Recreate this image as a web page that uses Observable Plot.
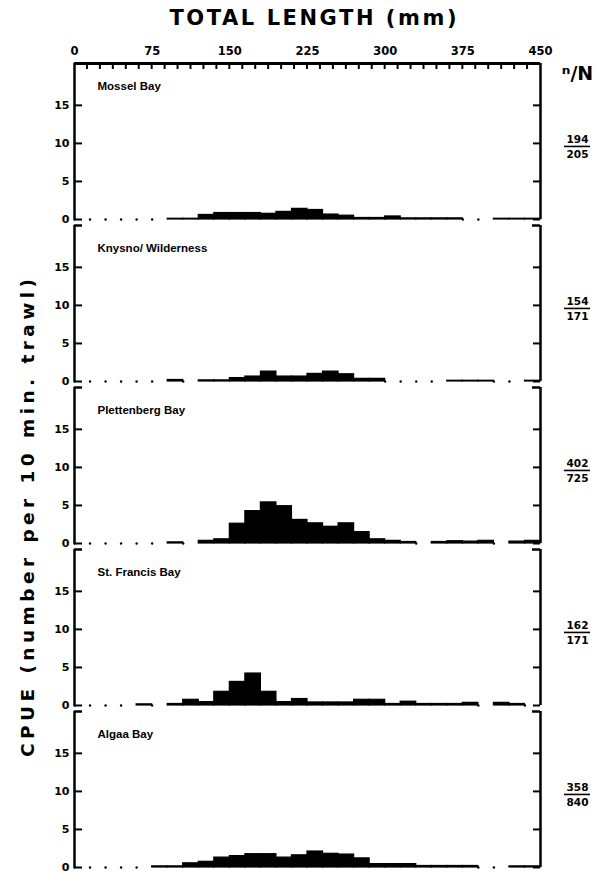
<!DOCTYPE html>
<html><head><meta charset="utf-8">
<script src="https://cdn.jsdelivr.net/npm/d3@7"></script>
<script src="https://cdn.jsdelivr.net/npm/@observablehq/plot@0.6"></script>
<style>
body{margin:0;background:#fff;}
#chart svg{display:block;}
</style></head><body><div id="chart"></div>
<script>
// ---- data ----
const sites = ["Mossel Bay", "Knysno/ Wilderness", "Plettenberg Bay", "St. Francis Bay", "Algaa Bay"];
const binStart = [0,15,30,45,60,75,90,105,120,135,150,165,180,195,210,225,240,255,270,285,300,315,330,345,360,375,390,405,420,435];
const binWidth = 15;
const mosselBay   = [0,0,0,0,0,0, 0.1,0.1,0.6,0.85,0.85,0.85,0.75,1.0,1.4,1.25,0.65,0.5,0.2,0.2,0.4,0.15,0.15,0.15,0.15,0,0,0.1,0.1,0.1];
const knysna      = [0,0,0,0,0,0, 0.2,0,0.15,0.15,0.45,0.65,1.3,0.65,0.65,1.0,1.3,0.95,0.35,0.35,0,0,0,0,0.1,0.1,0.1,0,0,0.1];
const plettenberg = [0,0,0,0,0,0, 0.15,0,0.35,0.55,2.6,4.25,5.4,4.9,3.1,2.65,2.2,2.65,1.5,0.55,0.35,0.2,0,0.2,0.3,0.25,0.35,0,0.25,0.35];
const stFrancis   = [0,0,0,0,0.15,0, 0.2,0.75,0.45,1.8,3.1,4.2,1.8,0.45,0.85,0.4,0.4,0.4,0.75,0.75,0.2,0.5,0.2,0.2,0.2,0.35,0,0.35,0.2,0];
const algoa       = [0,0,0,0,0,0.15, 0.15,0.55,0.75,1.3,1.5,1.75,1.75,1.3,1.6,2.1,1.8,1.7,1.2,0.45,0.45,0.45,0.2,0.2,0.2,0.2,0,0,0.15,0.15];
const seriesBySite = [mosselBay, knysna, plettenberg, stFrancis, algoa];
const nCaught = [194, 154, 402, 162, 358];
const nTotal  = [205, 171, 725, 171, 840];
const xLabelTicks = [0,75,150,225,300,375,450];
const xMinorTicks = [12.5,25,37.5,50,62.5,75,87.5,100,112.5,125,137.5,150,162.5,175,187.5,200,212.5,225,237.5,250,262.5,275,287.5,300,312.5,325,337.5,350,362.5,375,387.5,400,412.5,425,437.5];
const yTicks = [0,5,10,15];
const xDomain = [0, 450];
const yMax = 20.5;
const fracY = 9.6;
const xTitle = "TOTAL LENGTH (mm)";
const yTitle = "CPUE (number per 10 min. trawl)";
const headerText = "ⁿ/N";

// ---- tables ----
const bars = [];
sites.forEach((s, i) => binStart.forEach((b, j) => bars.push({site: s, x1: b, x2: b + binWidth, v: seriesBySite[i][j]})));
const siteRows = sites.map((s, i) => ({site: s, n: String(nCaught[i]), N: String(nTotal[i])}));
const yTickRows = sites.flatMap(s => yTicks.map(v => ({site: s, v})));

// ---- layout ----
const W = 609, H = 873, mL = 74, mR = 69, mT = 63, mB = 6;
const frameW = W - mL - mR;
const font = "'Liberation Sans', Arial, sans-serif";
const heavy = "'DejaVu Sans', sans-serif";

const chart = Plot.plot({
  width: W, height: H,
  marginLeft: mL, marginRight: mR, marginTop: mT, marginBottom: mB,
  style: {fontFamily: font, background: "#fff", color: "#000"},
  x: {domain: xDomain, axis: null},
  y: {domain: [0, yMax], axis: null},
  fy: {domain: sites, axis: null, paddingInner: 6 / 162, paddingOuter: 0},
  marks: [
    Plot.rectY(bars.filter(d => d.v > 0), {x1: "x1", x2: "x2", y: "v", fy: "site", fill: "#000", stroke: "#000", strokeWidth: 1.2}),
    Plot.dot(bars.filter(d => d.v === 0), {x: "x1", y: () => 0, fy: "site", r: 1.2, fill: "#000", stroke: null}),
    // frame pieces
    Plot.ruleX(siteRows, {x: () => xDomain[0], fy: "site", strokeWidth: 2.5}),
    Plot.ruleX(siteRows, {x: () => xDomain[1], fy: "site", strokeWidth: 2.5}),
    Plot.ruleY(siteRows.slice(0, 1), {y: () => yMax, fy: "site", strokeWidth: 3}),
    Plot.ruleY(siteRows.slice(1), {y: () => yMax, fy: "site", strokeWidth: 2.5, insetRight: frameW - 8}),
    Plot.ruleY(siteRows.slice(1), {y: () => yMax, fy: "site", strokeWidth: 2.5, insetLeft: frameW - 8}),
    // y ticks (left and right, inward)
    Plot.ruleY(yTickRows, {y: "v", fy: "site", strokeWidth: 2, insetRight: frameW - 8}),
    Plot.ruleY(yTickRows, {y: "v", fy: "site", strokeWidth: 2, insetLeft: frameW - 7}),
    Plot.axisY({ticks: yTicks, tickSize: 0, tickPadding: 5, label: null, fontWeight: "bold", fontSize: 11, fontFamily: heavy, ariaLabel: "ylab"}),
    Plot.axisX({anchor: "top", ticks: xLabelTicks, tickSize: 0, tickPadding: 9, label: null, fontWeight: "bold", fontSize: 11.5, fontFamily: heavy, ariaLabel: "xlab"}),
    // panel labels
    Plot.text(siteRows, {text: "site", fy: "site", frameAnchor: "top-left", dx: 23, dy: 23, lineAnchor: "middle", fontSize: 11.5, fontWeight: "bold", ariaLabel: "sitelab"}),
    // n/N fractions
    Plot.text(siteRows.slice(0, 1), {text: () => headerText, fy: "site", frameAnchor: "top-right", textAnchor: "middle", lineAnchor: "middle", dx: 37, dy: 10, fontSize: 19, fontWeight: "bold", fontFamily: heavy, ariaLabel: "header"}),
    Plot.text(siteRows, {text: "n", y: () => fracY, fy: "site", frameAnchor: "right", textAnchor: "middle", dx: 37, dy: -7, fontSize: 10.5, fontWeight: "bold", fontFamily: heavy, ariaLabel: "frac"}),
    Plot.text(siteRows, {text: "N", y: () => fracY, fy: "site", frameAnchor: "right", textAnchor: "middle", dx: 37, dy: 8, fontSize: 10.5, fontWeight: "bold", fontFamily: heavy, ariaLabel: "frac"}),
    Plot.ruleY(siteRows, {y: () => fracY, fy: "site", strokeWidth: 1.6, insetLeft: frameW + 24, insetRight: -50})
  ]
});

const svg = d3.select(chart);
svg.selectAll('g[aria-label="xlab"] text, g[aria-label="frac"] text').style("letter-spacing", "1.5px");
svg.selectAll('g[aria-label="sitelab"] text').style("letter-spacing", "0.9px").style("word-spacing", "4px");

// top minor ticks placed with the plot's own x scale, hanging inward from the top frame
const xs = chart.scale("x");
svg.append("g").attr("aria-label", "top minor ticks").attr("stroke", "#000").attr("stroke-width", 2)
  .selectAll("line").data(xMinorTicks).join("line")
  .attr("x1", d => xs.apply(d)).attr("x2", d => xs.apply(d))
  .attr("y1", mT).attr("y2", mT + 6);

svg.append("text")
  .attr("x", 313).attr("y", 25)
  .attr("text-anchor", "middle")
  .attr("font-family", heavy).attr("font-weight", "bold").attr("font-size", 21)
  .attr("textLength", 287).attr("lengthAdjust", "spacing")
  .text(xTitle);
svg.append("text")
  .attr("transform", "translate(34,518) rotate(-90)")
  .attr("text-anchor", "middle")
  .attr("font-family", heavy).attr("font-weight", "bold").attr("font-size", 18.5)
  .attr("textLength", 478).attr("lengthAdjust", "spacing")
  .text(yTitle);

document.getElementById("chart").appendChild(chart);
</script></body></html>
